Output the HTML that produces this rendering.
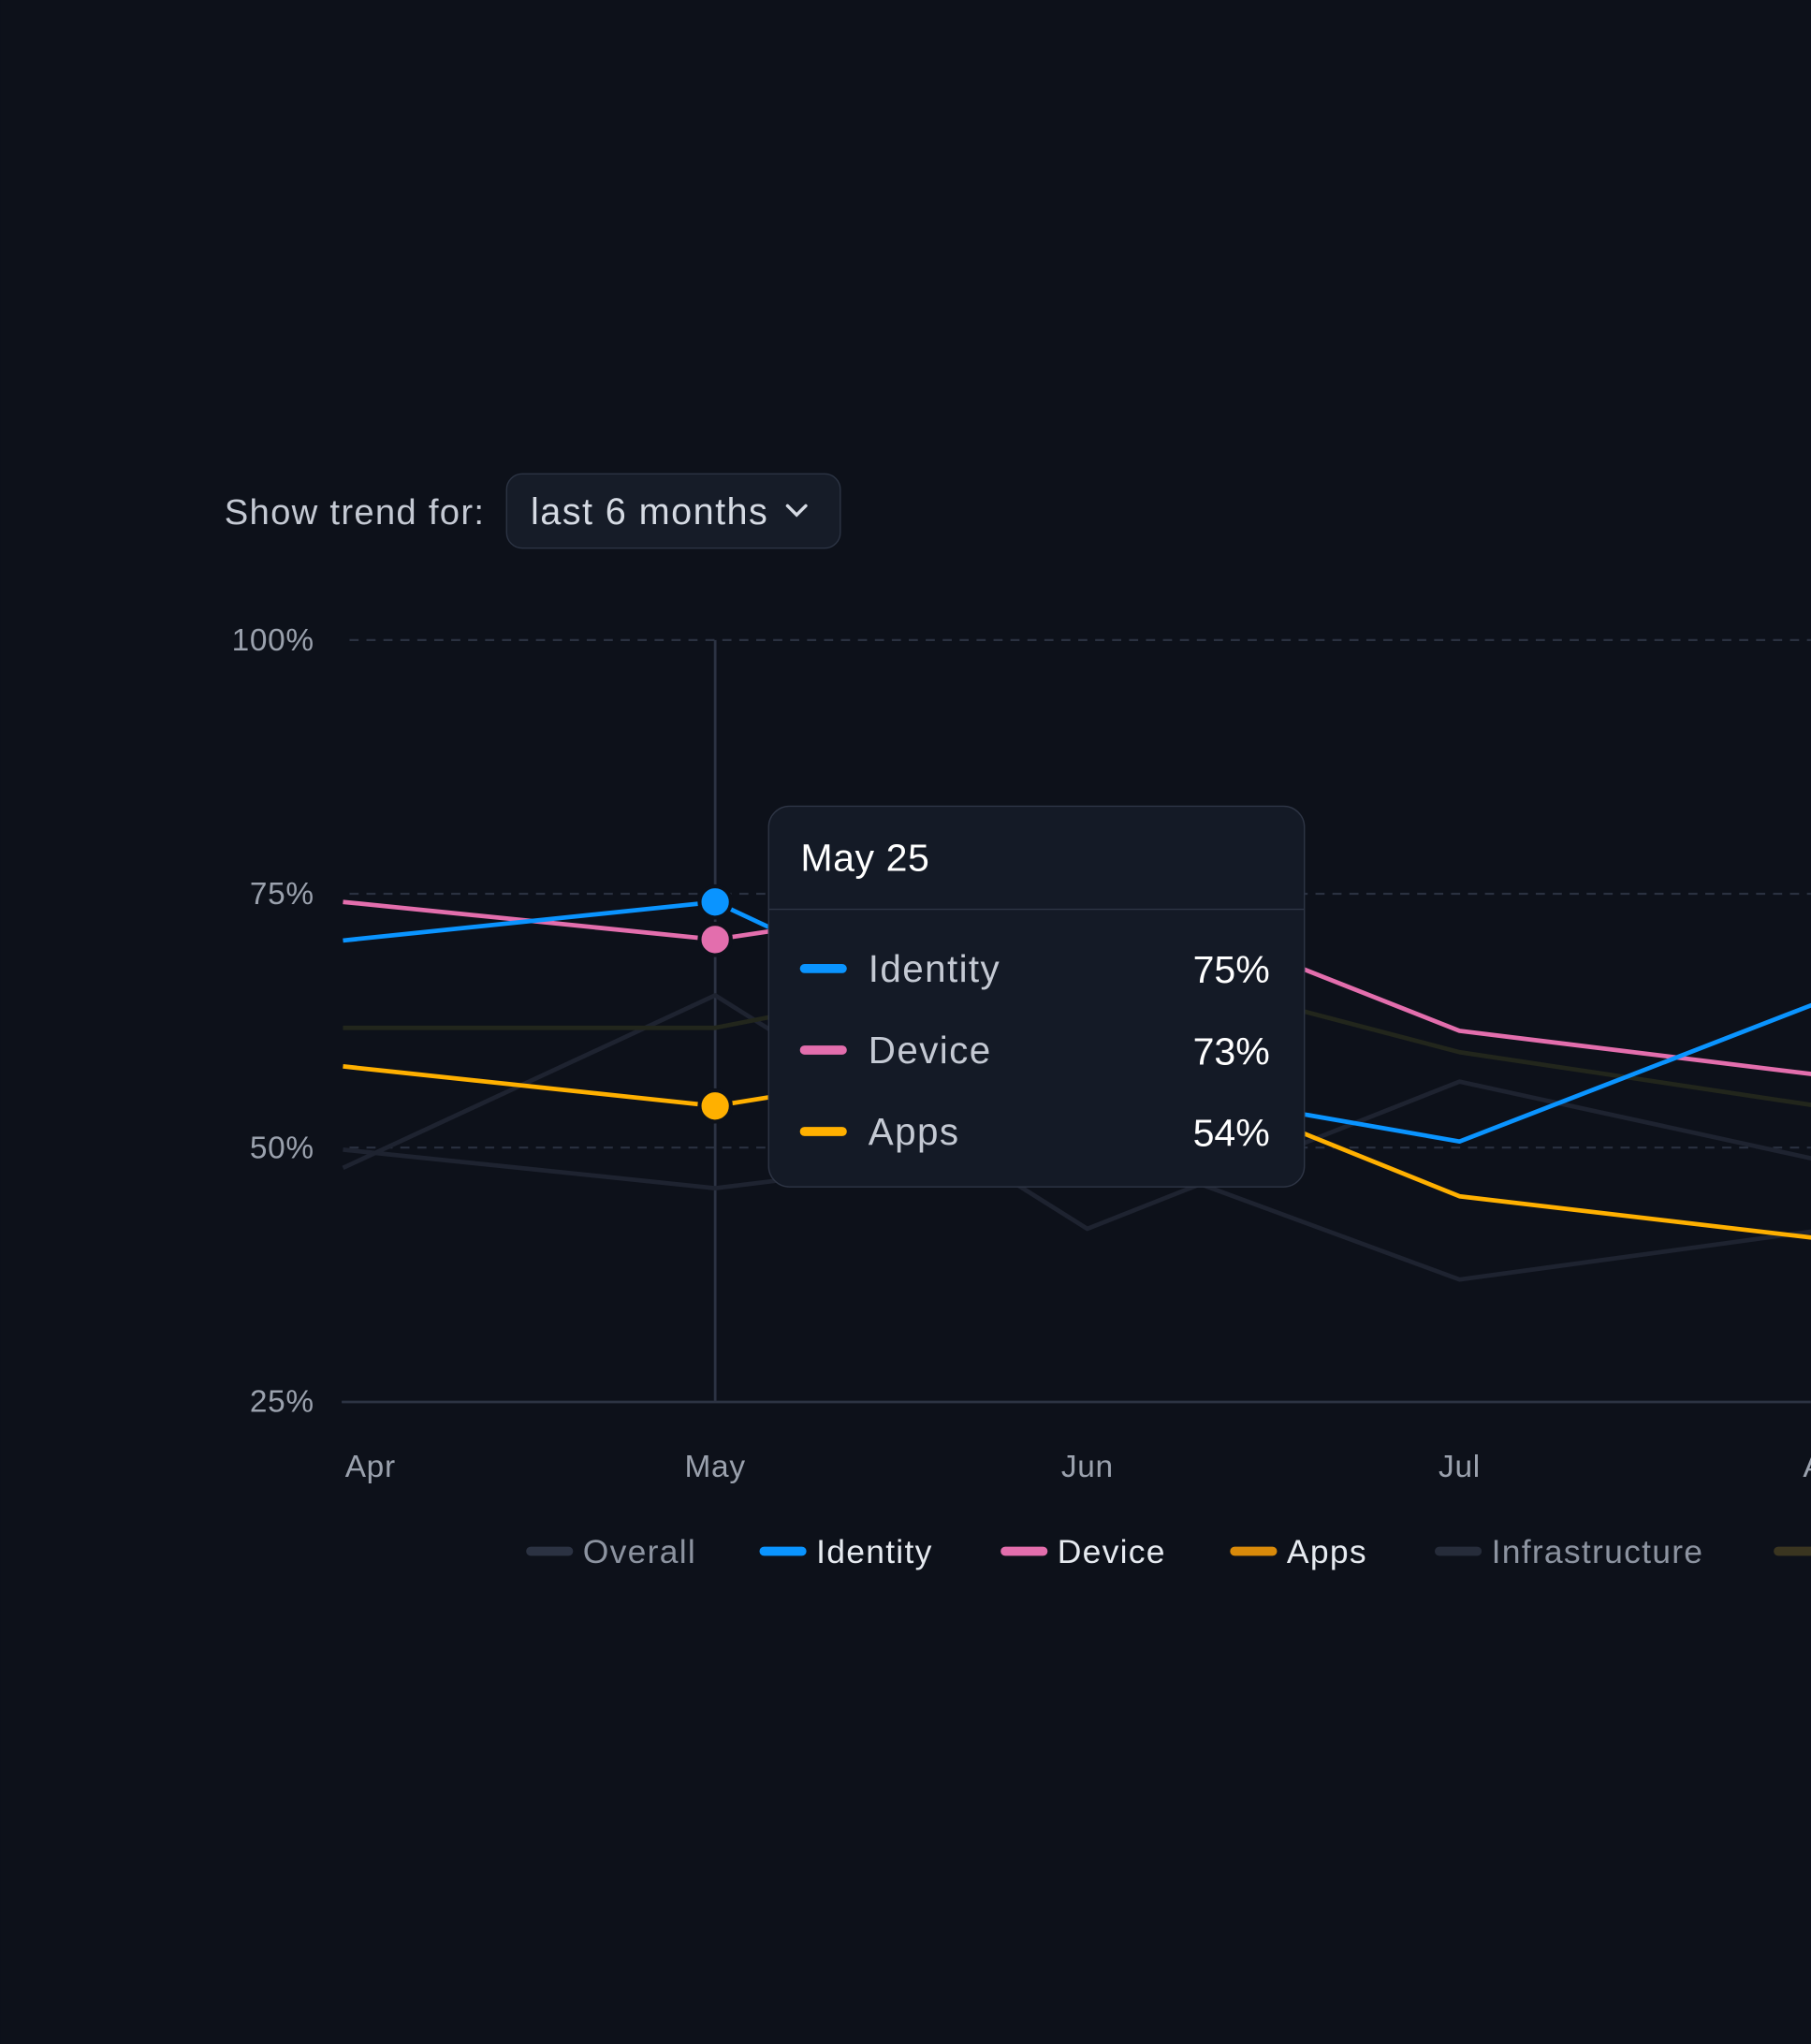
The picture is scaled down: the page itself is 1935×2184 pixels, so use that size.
<!DOCTYPE html>
<html><head><meta charset="utf-8"><style>
html,body{margin:0;padding:0;background:#0d111a;}
svg{display:block;}
text{font-family:"Liberation Sans",sans-serif;}
</style></head><body>
<svg id="chart" width="1935" height="2184" viewBox="0 0 1389 1568" xmlns="http://www.w3.org/2000/svg">
<rect width="1389" height="1568" fill="#0d111a"/>
<text x="172" y="402" font-size="27.5" letter-spacing="0.9" fill="#c4c9d3">Show trend for:</text>
<g>
<rect x="388.5" y="363.5" width="256" height="57" rx="12" fill="#161c28" stroke="#2c3444"/>
<text x="407" y="402" font-size="28.5" letter-spacing="1" fill="#d5dae3">last 6 months</text>
<path d="M604 388 L611 395 L618 388" stroke="#d5dae3" stroke-width="2.5" fill="none" stroke-linecap="round"/>
</g>
<g id="grid"></g>
<g id="lines"></g>
<g id="dots"></g>
<g>
<rect x="589.5" y="618.5" width="411" height="292" rx="16" fill="#141a26" stroke="#2e3545"/>
<line x1="590" y1="697.5" x2="1000" y2="697.5" stroke="#2e3545"/>
<text x="614" y="668" font-size="29.5" letter-spacing="0.4" fill="#ffffff">May 25</text>
<g id="tipItems"></g>
</g>
<g id="legend"></g>
</svg>
<script>
const months = ["Apr","May","Jun","Jul","Aug"];
const yTicks = [100,75,50,25];
const overall = [49.8,46,50.5,37,42];
const identity = [70.4,74.2,57,50.6,64.8];
const device = [74.2,70.5,76,61.5,57];
const apps = [58,54.1,60,45.2,40.9];
const infrastructure = [48,65,42,56.5,48.5];
const other = [61.8,61.8,69,59.4,53.9];
const seriesNames = ["Overall","Identity","Device","Apps","Infrastructure","Data"];
const tipNames = ["Identity","Device","Apps"];
const tipValues = ["75%","73%","54%"];
const hoverIndex = 1;

const NS="http://www.w3.org/2000/svg";
const X = i => 263 + i*285.5;
const Y = v => 1075 - (v-25)*(584/75);
function mk(tag, attrs, parent){const e=document.createElementNS(NS,tag);for(const k in attrs)e.setAttribute(k,attrs[k]);parent.appendChild(e);return e;}

const grid=document.getElementById('grid');
yTicks.forEach(t=>{
  const y=Y(t);
  const l = t===25 ? mk('line',{x1:262,x2:1389,y1:y+0.5,y2:y+0.5,stroke:'#2c3343','stroke-width':2},grid)
                   : mk('line',{x1:268,x2:1389,y1:y,y2:y,stroke:'#2a3140','stroke-width':1.6,'stroke-dasharray':'7 6'},grid);
  
  
  const tx=mk('text',{x:241,y:y+8,'font-size':24,'letter-spacing':0.5,fill:'#9aa1ad','text-anchor':'end'},grid);
  tx.textContent=t+'%';
  
  
});
months.forEach((m,i)=>{
  const tx=mk('text',{x:X(i)+(i==0?21:0),y:1133,'font-size':24,'letter-spacing':0.5,fill:'#9aa1ad','text-anchor':'middle'},grid);
  tx.textContent=m;
  
  
});
const cur=mk('line',{x1:X(hoverIndex),x2:X(hoverIndex),y1:Y(100),y2:Y(25),stroke:'#2c3343','stroke-width':2},grid);



const series=[
 {d:overall,c:'#1e2330',n:'overall'},
 {d:infrastructure,c:'#1e2330',n:'infrastructure'},
 {d:other,c:'#22261c',n:'data'},
 {d:apps,c:'#ffb000',n:'apps'},
 {d:device,c:'#e36ead',n:'device'},
 {d:identity,c:'#0a94ff',n:'identity'}];
const lines=document.getElementById('lines');
series.forEach(s=>{
  const p=mk('polyline',{points:s.d.map((v,i)=>X(i)+','+Y(v)).join(' '),fill:'none',stroke:s.c,'stroke-width':3.4,'stroke-linejoin':'round'},lines);
  
  
});
const dots=document.getElementById('dots');
[[apps,'#ffb000','apps'],[device,'#e36ead','device'],[identity,'#0a94ff','identity']].forEach(([d,c,n])=>{
  const e=mk('circle',{cx:X(hoverIndex),cy:Y(d[hoverIndex]),r:12,fill:c,stroke:'#0d111a','stroke-width':3},dots);
  
  
});
const tip=document.getElementById('tipItems');
const tipColors=['#0a94ff','#e36ead','#ffb000'];
tipNames.forEach((n,i)=>{
  const y=743+i*62.5;
  const g=mk('g',{},tip);
  
  
  mk('line',{x1:617,x2:646,y1:y,y2:y,stroke:tipColors[i],'stroke-width':7,'stroke-linecap':'round'},g);
  mk('text',{x:666,y:y+10,'font-size':29,'letter-spacing':1,fill:'#c4c9d3'},g).textContent=n;
  mk('text',{x:974,y:y+11,'font-size':29.5,fill:'#ffffff','text-anchor':'end'},g).textContent=tipValues[i];
});
const legend=document.getElementById('legend');
const legX=[407,586,771,947,1104,1364];
const legC=['#2b3242','#0a94ff','#e36ead','#d98a0a','#262c3a','#3a3520'];
const legT=['#8c93a0','#e6eaf0','#e6eaf0','#e6eaf0','#8c93a0','#8c93a0'];
seriesNames.forEach((n,i)=>{
  const g=mk('g',{},legend);
  
  
  mk('line',{x1:legX[i],x2:legX[i]+29,y1:1190,y2:1190,stroke:legC[i],'stroke-width':7,'stroke-linecap':'round'},g);
  mk('text',{x:legX[i]+40,y:1199,'font-size':25.5,'letter-spacing':0.9,fill:legT[i]},g).textContent=n;
});
</script>
</body></html>
